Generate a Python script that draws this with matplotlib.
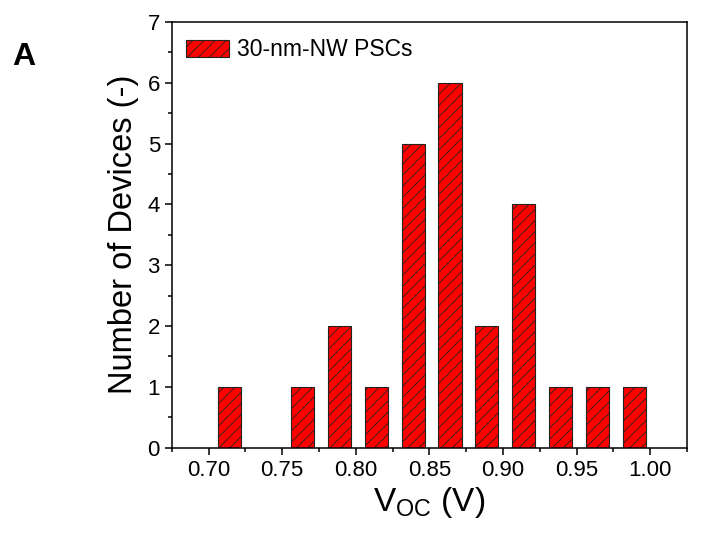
import matplotlib
matplotlib.use("Agg")
import matplotlib.pyplot as plt
from matplotlib.ticker import MultipleLocator

plt.rcParams['font.family'] = ['Liberation Sans', 'DejaVu Sans']
plt.rcParams['mathtext.fontset'] = 'custom'
plt.rcParams['mathtext.rm'] = 'Liberation Sans'
plt.rcParams['hatch.linewidth'] = 0.6

# bin centres (V) and device counts
voc_centers = [0.714, 0.764, 0.789, 0.814, 0.839, 0.864, 0.889, 0.914, 0.939, 0.964, 0.989]
device_counts = [1, 1, 2, 1, 5, 6, 2, 4, 1, 1, 1]
x_ticks = [0.70, 0.75, 0.80, 0.85, 0.90, 0.95, 1.00]
y_ticks = [0, 1, 2, 3, 4, 5, 6, 7]

fig = plt.figure(figsize=(7.04, 5.33), dpi=100)
ax = fig.add_axes([0.244, 0.16, 0.732, 0.799])

ax.bar(voc_centers, device_counts, width=0.0157, color='#ff0000',
       edgecolor='#222222', linewidth=0.8, hatch='///',
       label='30-nm-NW PSCs')

ax.set_xlim(0.675, 1.025)
ax.set_ylim(0, 7)
ax.set_xticks(x_ticks)
ax.set_xticklabels(['%.2f' % t for t in x_ticks])
ax.set_yticks(y_ticks)
ax.xaxis.set_minor_locator(MultipleLocator(0.025))
ax.yaxis.set_minor_locator(MultipleLocator(0.5))
ax.tick_params(which='both', direction='out', top=False, right=False,
               labelsize=16, width=1.1)
ax.tick_params(which='major', length=5)
ax.tick_params(which='minor', length=3)
for sp in ax.spines.values():
    sp.set_linewidth(1.1)

ax.set_xlabel('V$_{\\mathrm{OC}}$ (V)', fontsize=24, labelpad=3)
ax.set_ylabel('Number of Devices (-)', fontsize=23.5, labelpad=6)

ax.legend(loc='upper left', bbox_to_anchor=(0.018, 0.972), frameon=False,
          fontsize=16.5, handlelength=1.9, handleheight=0.75,
          handletextpad=0.35, borderaxespad=0, borderpad=0.2)

fig.text(0.017, 0.878, 'A', fontsize=23, fontweight='bold')

fig.savefig('out.png', dpi=100)
